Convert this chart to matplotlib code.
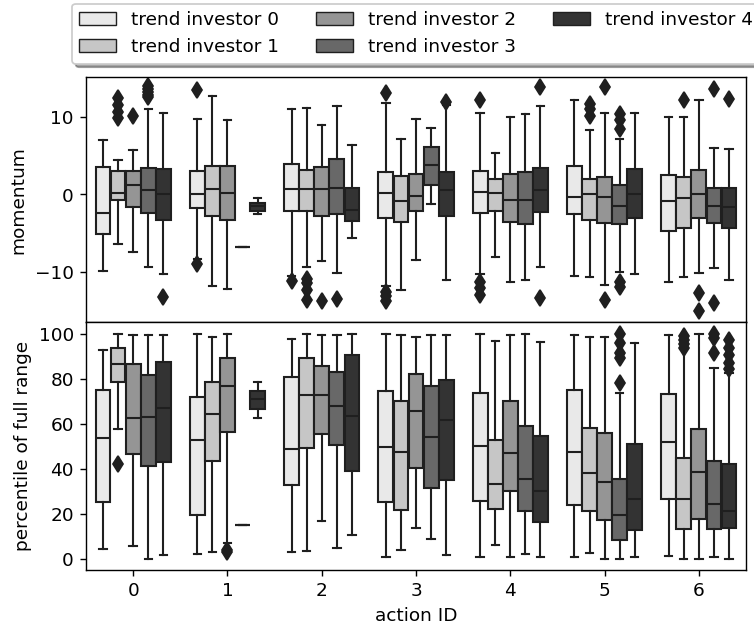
import colorsys
import matplotlib
matplotlib.use("Agg")
import matplotlib.pyplot as plt
import matplotlib.patches as mpatches
import numpy as np

plt.rcParams["font.size"] = 10.6

# categories
actions = [0, 1, 2, 3, 4, 5, 6]
investors = ["trend investor 0", "trend investor 1", "trend investor 2",
             "trend investor 3", "trend investor 4"]

# momentum box stats, rows = action ID, cols = trend investor 0..4
mom_whislo = [[-9.85, -6.37, -7.4, -9.33, -10.3],
              [-8.4, -11.9, -12.26, -6.75, -2.58],
              [-10.5, -9.33, -8.6, -10.1, -5.68],
              [-11.8, -12.4, -8.47, -1.25, -11.05],
              [-10.3, -8.1, -11.35, -11.05, -9.33],
              [-10.5, -10.7, -11.7, -10.0, -10.3],
              [-11.35, -10.7, -10.1, -9.46, -11.05]]
mom_q1 = [[-5.16, -0.73, -1.6, -2.45, -3.3],
          [-1.72, -2.75, -3.3, -6.75, -2.1],
          [-2.1, -2.1, -2.75, -2.58, -3.44],
          [-3.1, -3.6, -2.1, 1.2, -2.75],
          [-2.45, -2.1, -3.5, -3.83, -2.24],
          [-2.58, -3.3, -3.66, -3.83, -3.1],
          [-4.7, -4.3, -3.1, -3.74, -4.3]]
mom_med = [[-2.45, 0.13, 1.2, 0.56, 0.0],
           [0.0, 0.69, 0.13, -6.75, -1.5],
           [0.69, 0.69, 0.69, 0.86, -2.0],
           [0.13, -0.86, -0.17, 3.78, 0.56],
           [0.34, 0.13, -0.73, -0.73, 0.56],
           [-0.3, 0.0, -0.3, -1.5, 0.0],
           [-0.86, -0.52, 0.0, -1.5, -1.68]]
mom_q3 = [[3.57, 3.0, 3.0, 3.44, 3.27],
          [3.05, 3.74, 3.74, -6.75, -1.08],
          [3.9, 3.2, 3.57, 4.65, 0.86],
          [2.92, 2.37, 2.7, 6.15, 2.92],
          [3.05, 2.06, 2.7, 2.92, 3.44],
          [3.66, 2.06, 2.28, 1.2, 3.27],
          [2.58, 2.28, 3.14, 0.86, 0.86]]
mom_whishi = [[7.0, 4.43, 5.8, 11.0, 10.5],
              [9.7, 12.7, 9.6, -6.75, -0.52],
              [11.0, 11.2, 8.95, 11.4, 6.37],
              [11.87, 7.2, 9.7, 8.6, 11.6],
              [10.5, 5.38, 10.0, 10.45, 11.4],
              [12.26, 8.3, 10.5, 7.2, 10.5],
              [10.0, 10.0, 12.26, 6.06, 5.85]]
mom_fliers = {(0, 1): [12.5, 11.6, 10.7, 9.9],
              (0, 2): [10.15],
              (0, 3): [14.0, 13.6, 13.2, 12.9, 12.6],
              (0, 4): [-13.3],
              (1, 0): [13.5, -9.0],
              (2, 0): [-11.2],
              (2, 1): [-10.9, -11.5, -12.3, -13.6],
              (2, 2): [-13.8],
              (2, 3): [-13.5],
              (3, 0): [13.1, -12.6, -13.2, -13.8],
              (3, 4): [12.0],
              (4, 0): [12.2, -11.3, -12.1, -13.0],
              (4, 4): [13.9, -13.4],
              (5, 1): [11.7, 11.0, 10.2],
              (5, 2): [13.9, -13.6],
              (5, 3): [10.45, 9.6, 8.5, -11.3, -12.0],
              (6, 1): [12.26],
              (6, 2): [-12.8, -15.1],
              (6, 3): [13.7, -14.1],
              (6, 4): [12.4]}

# percentile of full range box stats
pct_whislo = [[4.3, 57.9, 5.5, 0.0, 1.8],
              [2.2, 3.0, 7.0, 14.9, 62.5],
              [3.0, 3.6, 16.7, 4.8, 10.7],
              [0.6, 3.7, 13.7, 8.9, 1.8],
              [1.0, 6.0, 0.6, 2.2, 1.0],
              [0.6, 2.5, 0.0, 0.0, 0.6],
              [1.3, 0.0, 0.0, 0.6, 0.0]]
pct_q1 = [[25.1, 78.7, 46.6, 41.2, 43.0],
          [19.6, 43.5, 56.7, 14.9, 66.8],
          [33.0, 49.4, 55.4, 50.6, 39.3],
          [25.1, 21.6, 40.5, 31.5, 35.0],
          [25.6, 22.2, 30.4, 21.4, 16.2],
          [23.8, 21.4, 17.4, 8.5, 12.6],
          [26.8, 13.2, 17.9, 13.2, 13.7]]
pct_med = [[53.9, 87.0, 62.6, 63.2, 67.3],
           [53.1, 64.3, 76.9, 14.9, 71.0],
           [49.0, 72.8, 72.8, 68.0, 63.8],
           [49.7, 47.6, 65.8, 54.3, 62.0],
           [50.1, 33.5, 47.2, 35.7, 30.4],
           [47.6, 38.2, 34.1, 19.6, 26.8],
           [51.9, 26.8, 38.7, 24.4, 21.4]]
pct_q3 = [[75.1, 94.0, 86.9, 82.1, 87.6],
          [72.0, 78.7, 89.3, 14.9, 74.7],
          [81.0, 89.3, 85.9, 83.3, 90.6],
          [74.7, 70.2, 82.4, 76.9, 79.5],
          [74.0, 53.1, 70.5, 59.1, 54.9],
          [75.1, 58.3, 56.1, 35.6, 51.3],
          [73.2, 44.9, 57.9, 43.5, 42.3]]
pct_whishi = [[93.0, 100.0, 99.7, 99.7, 99.7],
              [100.0, 99.0, 100.0, 14.9, 78.7],
              [97.8, 100.0, 99.7, 99.7, 100.0],
              [100.0, 99.7, 99.0, 99.7, 99.7],
              [100.0, 97.0, 99.7, 100.0, 96.6],
              [99.7, 99.0, 99.0, 74.0, 96.0],
              [99.7, 93.3, 100.0, 85.1, 82.9]]
pct_fliers = {(0, 1): [42.4],
              (1, 2): [4.0, 3.0],
              (5, 3): [100.0, 96.3, 91.8, 89.6, 78.4],
              (6, 1): [99.3, 97.5, 95.5, 93.9],
              (6, 3): [100.0, 98.5, 91.8],
              (6, 4): [97.5, 94.0, 90.6, 87.4, 84.4]}

# seaborn-like grey palette and line colour
cmap = plt.get_cmap("Greys")
colors = [cmap(v) for v in np.linspace(0, 1, len(investors) + 2)[1:-1]]
lum = min(colorsys.rgb_to_hls(*c[:3])[1] for c in colors) * 0.6
gray = (lum, lum, lum)

n_hue = len(investors)
each_w = 0.8 / n_hue
offsets = np.linspace(-0.4 + each_w / 2, 0.4 - each_w / 2, n_hue)


def draw_panel(ax, whislo, q1, med, q3, whishi, fliers):
    for j in range(n_hue):
        stats = []
        for i in range(len(actions)):
            stats.append(dict(whislo=whislo[i][j], q1=q1[i][j], med=med[i][j],
                              q3=q3[i][j], whishi=whishi[i][j],
                              fliers=fliers.get((i, j), [])))
        pos = np.array(actions) + offsets[j]
        ax.bxp(stats, positions=pos, widths=each_w * 0.98, patch_artist=True,
               manage_ticks=False,
               boxprops=dict(facecolor=colors[j], edgecolor=gray, linewidth=1.2),
               medianprops=dict(color=gray, linewidth=1.2),
               whiskerprops=dict(color=gray, linewidth=1.2),
               capprops=dict(color=gray, linewidth=1.2),
               flierprops=dict(marker="d", markerfacecolor=gray,
                               markeredgecolor=gray, markersize=6.5))


fig = plt.figure(figsize=(6.0, 4.99), dpi=125.67)
ax1 = fig.add_axes([0.1141, 0.4864, 0.8753, 0.3907])
ax2 = fig.add_axes([0.1141, 0.0909, 0.8753, 0.3955])

draw_panel(ax1, mom_whislo, mom_q1, mom_med, mom_q3, mom_whishi, mom_fliers)
draw_panel(ax2, pct_whislo, pct_q1, pct_med, pct_q3, pct_whishi, pct_fliers)

for ax in (ax1, ax2):
    ax.set_xlim(-0.5, len(actions) - 0.5)
    ax.set_xticks(actions)

ax1.set_xticklabels([])
ax1.tick_params(axis="x", length=0)
ax1.set_ylim(-16.5, 15.2)
ax1.set_yticks([-10, 0, 10])
ax1.set_ylabel("momentum")

ax2.set_xticklabels([str(a) for a in actions])
ax2.set_ylim(-5, 105.5)
ax2.set_yticks([0, 20, 40, 60, 80, 100])
ax2.set_ylabel("percentile of full range")
ax2.set_xlabel("action ID")

handles = [mpatches.Patch(facecolor=c, edgecolor=gray, linewidth=0.8) for c in colors]
fig.legend(handles, investors, ncol=3, loc="upper left",
           bbox_to_anchor=(0.0955, 0.994), borderaxespad=0, shadow=True)

fig.savefig("out.png", dpi=125.67)
